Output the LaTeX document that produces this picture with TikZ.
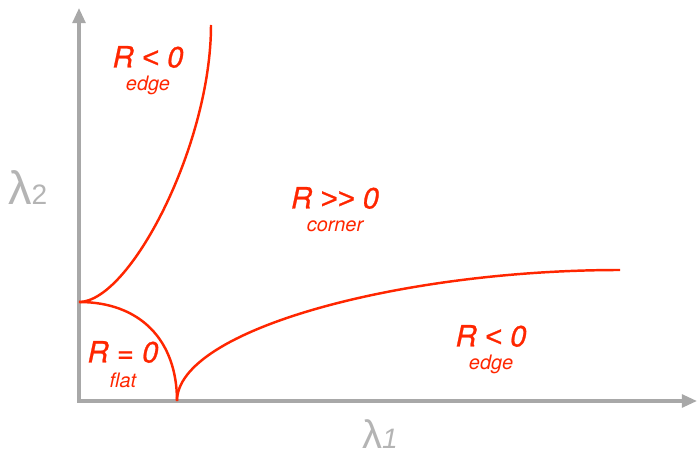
\documentclass[tikz,border=0pt]{standalone}
\usepackage{fontspec}
\setmainfont{TeX Gyre Heros}
\newfontfamily\regionfont{TeX Gyre Heros}[FakeBold=0.8]
\newfontfamily\relfont{Liberation Sans}[FakeBold=0.8]
\newfontfamily\greekfont{Liberation Sans}
\newcommand{\lessrel}{{\relfont<}}
\newcommand{\morerel}{{\relfont>}}
\usetikzlibrary{arrows.meta}
\definecolor{curvered}{RGB}{255,38,0}
\definecolor{axisgray}{RGB}{168,168,168}
\definecolor{labelgray}{RGB}{180,180,180}
\tikzstyle{axis} = [line width=2.8pt, draw=axisgray, line join=miter, {Triangle[length=13pt,width=11pt]}-{Triangle[length=13pt,width=11pt]}]
\tikzstyle{curve} = [line width=2.1pt, draw=curvered]
\tikzstyle{region} = [text=curvered, inner sep=0pt, font=\regionfont\itshape\fontsize{25}{25}\selectfont]
\tikzstyle{kind} = [text=curvered, inner sep=0pt, font=\itshape\fontsize{17}{17}\selectfont]
\tikzstyle{axislabel} = [text=labelgray, inner sep=0pt, anchor=base west]

\begin{document}
\begin{tikzpicture}[x=0.03cm, y=-0.03cm, node distance=0.84cm]
\useasboundingbox (0,0) rectangle (700,458);

% Axes
\coordinate (origin) at (79,401);
\coordinate (xend) at (697,401);
\coordinate (yend) at (79,8);
\draw [axis] (yend) |- (xend);

% Curves
\coordinate (cusp) at (79,302);
\coordinate (foot) at (177,401);
\coordinate (topend) at (211,25);
\coordinate (rightend) at (620,270);
\draw [curve] (cusp) .. controls (130,302) and (211,145) .. (topend);
\draw [curve] (cusp) .. controls (140,302) and (177,340) .. (foot);
\draw [curve] (foot) .. controls (177,330) and (400,270) .. (rightend);

% Nodes
\node (upper) [region] at (148,57) {R \lessrel\ 0};
\node (upperkind) [kind, below of=upper] {edge};

\node (centre) [region] at (335,198) {R \morerel\morerel\ 0};
\node (centrekind) [kind, below of=centre] {corner};

\node (flat) [region] at (123,352) {R = 0};
\node (flatkind) [kind, below of=flat] {flat};

\node (lower) [region] at (491,336) {R \lessrel\ 0};
\node (lowerkind) [kind, below of=lower] {edge};

\node (xlabel) [axislabel] at (362,448) {\greekfont\fontsize{34}{34}\selectfont λ\fontsize{24}{24}\selectfont\itshape 1};
\node (ylabel) [axislabel] at (8,205) {\greekfont\fontsize{40}{40}\selectfont λ\fontsize{24}{24}\selectfont 2};

\end{tikzpicture}
\end{document}
